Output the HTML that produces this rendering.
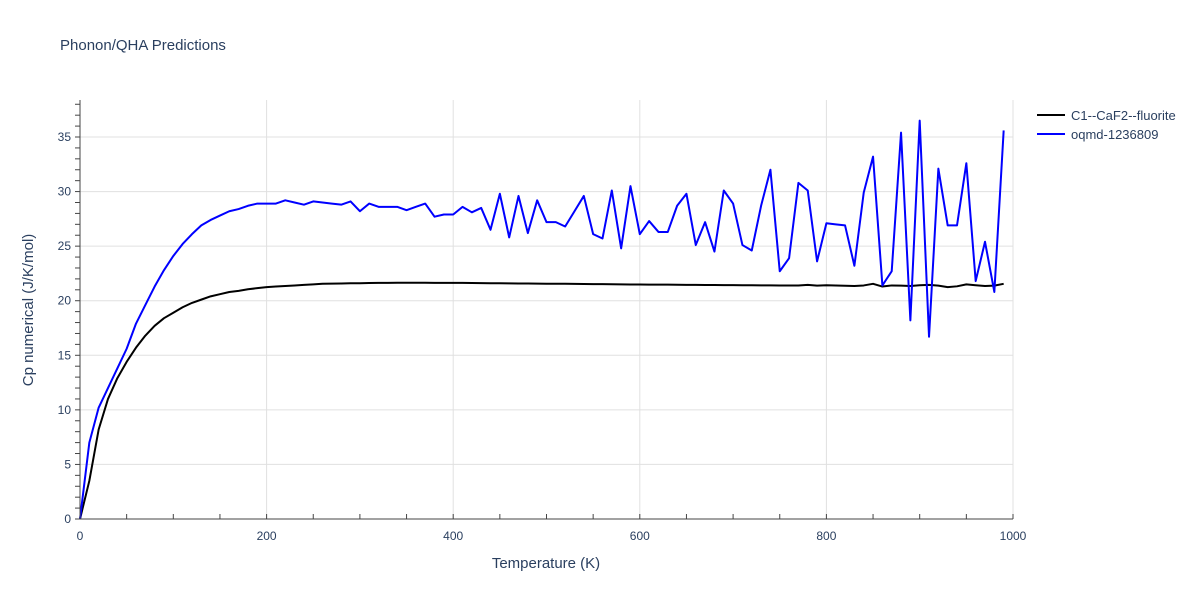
<!DOCTYPE html>
<html><head><meta charset="utf-8"><style>
body{margin:0;background:#fff;font-family:"Liberation Sans",sans-serif}
svg text{font-family:"Liberation Sans",sans-serif;fill:#2a3f5f}
</style></head><body>
<svg id="chart" width="1200" height="600" xmlns="http://www.w3.org/2000/svg">
<text x="60" y="50" font-size="15">Phonon/QHA Predictions</text>
<g id="grid"></g><g id="lines"></g><g id="axes"></g>
<text x="546" y="568" font-size="15" text-anchor="middle">Temperature (K)</text>
<text transform="translate(33,310) rotate(-90)" font-size="15" text-anchor="middle">Cp numerical (J/K/mol)</text>
<g>
<line x1="1037" y1="115" x2="1065" y2="115" stroke="#000" stroke-width="2"/>
<text x="1071" y="120" font-size="13">C1--CaF2--fluorite</text>
<line x1="1037" y1="134" x2="1065" y2="134" stroke="#0000ff" stroke-width="2"/>
<text x="1071" y="139" font-size="13">oqmd-1236809</text>
</g>
</svg>
<script>
const temps=[];for(let t=0;t<=990;t+=10)temps.push(t);
const seriesBlue=[0,7,10.2,12,13.8,15.6,17.9,19.6,21.3,22.8,24.1,25.2,26.1,26.9,27.4,27.8,28.2,28.4,28.7,28.9,28.9,28.9,29.2,29.0,28.8,29.1,29.0,28.9,28.8,29.1,28.2,28.9,28.6,28.6,28.6,28.3,28.6,28.9,27.7,27.9,27.9,28.6,28.1,28.5,26.5,29.8,25.8,29.6,26.2,29.2,27.2,27.2,26.8,28.2,29.6,26.1,25.7,30.1,24.8,30.5,26.1,27.3,26.3,26.3,28.7,29.8,25.1,27.2,24.5,30.1,28.9,25.1,24.6,28.7,32.0,22.7,23.9,30.8,30.1,23.6,27.1,27.0,26.9,23.2,29.9,33.2,21.4,22.7,35.4,18.2,36.5,16.7,32.1,26.9,26.9,32.6,21.8,25.4,20.8,35.6];
const seriesBlack=[0,3.5,8.2,11,12.9,14.4,15.7,16.8,17.7,18.4,18.9,19.4,19.8,20.1,20.4,20.6,20.8,20.9,21.05,21.15,21.25,21.3,21.35,21.4,21.45,21.5,21.55,21.57,21.58,21.6,21.6,21.62,21.63,21.64,21.65,21.65,21.65,21.65,21.64,21.64,21.63,21.63,21.62,21.61,21.6,21.6,21.59,21.58,21.58,21.57,21.56,21.56,21.55,21.54,21.53,21.52,21.52,21.51,21.5,21.49,21.49,21.48,21.47,21.47,21.46,21.45,21.45,21.44,21.44,21.43,21.43,21.42,21.42,21.41,21.41,21.4,21.4,21.39,21.45,21.38,21.42,21.4,21.37,21.35,21.4,21.55,21.3,21.4,21.38,21.35,21.42,21.45,21.38,21.25,21.32,21.5,21.42,21.35,21.38,21.55];
const xTicks=[0,200,400,600,800,1000];
const yTicks=[0,5,10,15,20,25,30,35];
const X=t=>80+t*0.933, Y=v=>519-v*10.914;
const ns="http://www.w3.org/2000/svg";
const g=document.getElementById('grid'),a=document.getElementById('axes'),L=document.getElementById('lines');
function mk(tag,at,p){const e=document.createElementNS(ns,tag);for(const k in at)e.setAttribute(k,at[k]);p.appendChild(e);return e;}
xTicks.forEach(t=>{
 const l=mk('line',{x1:X(t),x2:X(t),y1:100,y2:519,stroke:'#e0e0e0'},g);
 
 
 const tx=mk('text',{x:X(t),y:540,'font-size':12,'text-anchor':'middle'},a);tx.textContent=t;
 
 
});
yTicks.forEach(v=>{
 const l=mk('line',{x1:80,x2:1013,y1:Y(v),y2:Y(v),stroke:'#e0e0e0'},g);
 
 
 const tx=mk('text',{x:71,y:Y(v)+4,'font-size':12,'text-anchor':'end'},a);tx.textContent=v;
 
 
});
for(let t=0;t<=1000;t+=50){mk('line',{x1:X(t),x2:X(t),y1:514,y2:519,stroke:'#444'},a);}
for(let v=0;v<=38;v++){mk('line',{x1:75,x2:80,y1:Y(v),y2:Y(v),stroke:'#444'},a);}
const ax=mk('line',{x1:80,x2:80,y1:100,y2:519,stroke:'#444'},a);


const xa=mk('line',{x1:80,x2:1013,y1:519,y2:519,stroke:'#444'},a);


function line(vals,color,name){
 const p=mk('polyline',{points:vals.map((v,i)=>X(temps[i])+','+Y(v)).join(' '),fill:'none',stroke:color,'stroke-width':2,'stroke-linejoin':'round'},L);
 
 
}
line(seriesBlack,'#000','series-c1-caf2-fluorite');
line(seriesBlue,'#0000ff','series-oqmd-1236809');
</script>
</body></html>
